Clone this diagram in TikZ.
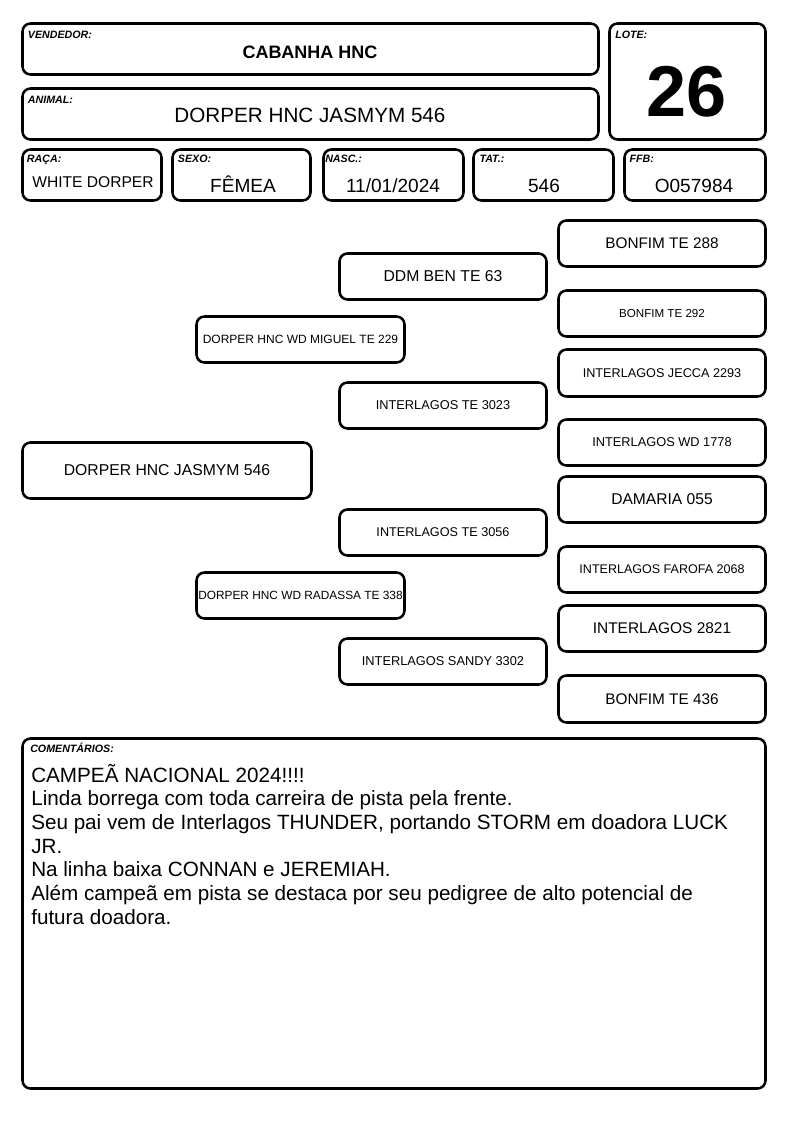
\documentclass[tikz,border=0pt]{standalone}
\usepackage{fontspec}
\setmainfont{Liberation Sans}
\usetikzlibrary{fit}
\newcommand\fsz[1]{\fontsize{#1}{#1}\selectfont}
\tikzset{
  box/.style={draw, line width=1.9pt, rounded corners=6pt, inner sep=0pt},
  lab/.style={anchor=base west, inner sep=0pt, font=\fsz{8}\bfseries\itshape},
  val/.style={anchor=base, inner sep=0pt},
  ptxt/.style={anchor=center, inner sep=0pt},
  cline/.style={anchor=base west, inner sep=0pt, font=\fsz{15.5}},
}
\begin{document}
\begin{tikzpicture}[x=0.75pt, y=-0.75pt]
\useasboundingbox[fill=white] (0,0) rectangle (794,1123);
% header
\node[box, fit={(22.5,23.5) (598.5,74.5)}] (vend) {};
\node[lab] (vendl) at (27.7,38.5) {VENDEDOR:};
\node[val, font=\fsz{13.5}\bfseries] (vendv) at (310,59) {CABANHA HNC};

\node[box, fit={(22.5,88.5) (598.5,139.5)}] (anim) {};
\node[lab] (animl) at (27.7,103.5) {ANIMAL:};
\node[val, font=\fsz{15.5}] (animv) at (310,123) {DORPER HNC JASMYM 546};

\node[box, fit={(609.5,23.5) (765.5,139.5)}] (lote) {};
\node[lab] (lotel) at (615,38.5) {LOTE:};
\node[val, font=\fsz{54}\bfseries] (lotev) at (686.5,117) {26};

\node[box, fit={(22.5,149.5) (161.5,200.5)}] (raca) {};
\node[lab] (racal) at (26.7,162.5) {RAÇA:};
\node[val, font=\fsz{11.7}] (racav) at (93,188) {WHITE DORPER};

\node[box, fit={(172.5,149.5) (310.5,200.5)}] (sexo) {};
\node[lab] (sexol) at (177.7,162.5) {SEXO:};
\node[val, font=\fsz{14.3}] (sexov) at (243,193) {FÊMEA};

\node[box, fit={(323.5,149.5) (463.5,200.5)}] (nasc) {};
\node[lab] (nascl) at (325,162.5) {NASC.:};
\node[val, font=\fsz{14.3}] (nascv) at (393,193) {11/01/2024};

\node[box, fit={(473.5,149.5) (613.5,200.5)}] (tat) {};
\node[lab] (tatl) at (479.3,162.5) {TAT.:};
\node[val, font=\fsz{14.3}] (tatv) at (544,193) {546};

\node[box, fit={(624.5,149.5) (765.5,200.5)}] (ffb) {};
\node[lab] (ffbl) at (629.3,162.5) {FFB:};
\node[val, font=\fsz{14.3}] (ffbv) at (694,193) {O057984};

% pedigree boxes
\node[box, fit={(22.5,442.5) (311.5,498.5)}] (p0) {};
\node[box, fit={(196.5,316.5) (404.5,362.5)}] (s) {};
\node[box, fit={(196.5,572.5) (404.5,618.5)}] (d) {};
\node[box, fit={(339.5,253.5) (546.5,299.5)}] (ss) {};
\node[box, fit={(339.5,382.5) (546.5,428.5)}] (sd) {};
\node[box, fit={(339.5,509.5) (546.5,555.5)}] (ds) {};
\node[box, fit={(339.5,638.5) (546.5,684.5)}] (dd) {};
\node[box, fit={(558.5,220.5) (765.5,266.5)}] (sss) {};
\node[box, fit={(558.5,290.5) (765.5,336.5)}] (ssd) {};
\node[box, fit={(558.5,349.5) (765.5,396.5)}] (sds) {};
\node[box, fit={(558.5,419.5) (765.5,465.5)}] (sdd) {};
\node[box, fit={(558.5,476.5) (765.5,522.5)}] (dss) {};
\node[box, fit={(558.5,546.5) (765.5,592.5)}] (dsd) {};
\node[box, fit={(558.5,605.5) (765.5,651.5)}] (dds) {};
\node[box, fit={(558.5,675.5) (765.5,722.5)}] (ddd) {};

% pedigree texts
\node[ptxt, font=\fsz{11.8}] (p0t) at (p0.center) {DORPER HNC JASMYM 546};
\node[ptxt, font=\fsz{9}] (st) at (s.center) {DORPER HNC WD MIGUEL TE 229};
\node[ptxt, font=\fsz{8.9}] (dt) at (d.center) {DORPER HNC WD RADASSA TE 338};
\node[ptxt, font=\fsz{11.8}] (sst) at (ss.center) {DDM BEN TE 63};
\node[ptxt, font=\fsz{9.6}] (sdt) at (sd.center) {INTERLAGOS TE 3023};
\node[ptxt, font=\fsz{9.5}] (dst) at (ds.center) {INTERLAGOS TE 3056};
\node[ptxt, font=\fsz{9.6}] (ddt) at (dd.center) {INTERLAGOS SANDY 3302};
\node[ptxt, font=\fsz{11.5}] (ssst) at (sss.center) {BONFIM TE 288};
\node[ptxt, font=\fsz{8.7}] (ssdt) at (ssd.center) {BONFIM TE 292};
\node[ptxt, font=\fsz{9.5}] (sdst) at (sds.center) {INTERLAGOS JECCA 2293};
\node[ptxt, font=\fsz{9.6}] (sddt) at (sdd.center) {INTERLAGOS WD 1778};
\node[ptxt, font=\fsz{11.7}] (dsst) at (dss.center) {DAMARIA 055};
\node[ptxt, font=\fsz{9.4}] (dsdt) at (dsd.center) {INTERLAGOS FAROFA 2068};
\node[ptxt, font=\fsz{11.6}] (ddst) at (dds.center) {INTERLAGOS 2821};
\node[ptxt, font=\fsz{11.5}] (dddt) at (ddd.center) {BONFIM TE 436};

% comments
\node[box, fit={(22.5,738.5) (765.5,1088.5)}] (com) {};
\node[lab] (coml) at (30,752.3) {COMENTÁRIOS:};
\node[cline] (c1) at (31,782) {CAMPEÃ NACIONAL 2024!!!!};
\node[cline] (c2) at (31,805.7) {Linda borrega com toda carreira de pista pela frente.};
\node[cline] (c3) at (31,829.4) {Seu pai vem de Interlagos THUNDER, portando STORM em doadora LUCK};
\node[cline] (c4) at (31,853.1) {JR.};
\node[cline] (c5) at (31,876.8) {Na linha baixa CONNAN e JEREMIAH.};
\node[cline] (c6) at (31,900.5) {Além campeã em pista se destaca por seu pedigree de alto potencial de};
\node[cline] (c7) at (31,924.2) {futura doadora.};
\end{tikzpicture}
\end{document}
